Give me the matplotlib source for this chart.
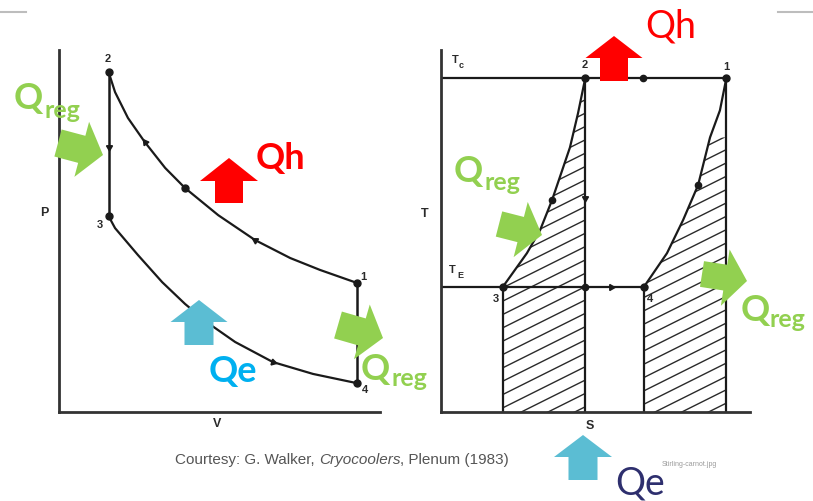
import matplotlib.pyplot as plt
import numpy as np
from matplotlib.patches import FancyArrow, Polygon

# ---- P-V diagram (arbitrary units) ----
v_states = [6.0, 1.0, 1.0, 6.0]          # states 1, 2, 3, 4
p_states = [3.8, 10.0, 5.76, 0.85]
v_hot = [1.0, 1.13, 1.39, 1.73, 2.14, 2.54, 3.21, 3.95, 4.66, 5.26, 6.0]
p_hot = [10.0, 9.41, 8.65, 7.94, 7.18, 6.59, 5.79, 5.06, 4.53, 4.18, 3.8]
v_cold = [1.0, 1.13, 1.59, 2.08, 2.54, 3.0, 3.55, 4.31, 5.12, 6.0]
p_cold = [5.76, 5.41, 4.62, 3.82, 3.18, 2.62, 2.06, 1.47, 1.12, 0.85]

# ---- T-S diagram (arbitrary units) ----
t_c = 10.0
t_e = 3.75
s_states = [13.85, 7.0, 3.0, 9.85]       # states 1, 2, 3, 4
t_states = [t_c, t_c, t_e, t_e]
s_23 = [3.0, 4.17, 4.81, 5.39, 6.26, 6.65, 7.0]
t_23 = [3.75, 4.76, 5.45, 6.35, 7.93, 8.95, 10.0]
s_41 = [9.85, 10.97, 11.75, 12.48, 13.06, 13.54, 13.85]
t_41 = [3.75, 4.76, 5.75, 6.80, 8.23, 9.04, 10.0]

W, H = 813, 501
INK = '#1a1a1a'
GREEN = '#92D050'
RED = '#FF0000'
BLUE_ARROW = '#5BBDD3'
BLUE_TEXT = '#00B0F0'
NAVY = '#2E2F6E'


def rect(x0, y0, x1, y1):
    # pixel box (top-left origin) -> figure fraction
    return [x0 / W, 1 - y1 / H, (x1 - x0) / W, (y1 - y0) / H]


def frame(ax):
    for side in ['top', 'right']:
        ax.spines[side].set_visible(False)
    for side in ['left', 'bottom']:
        ax.spines[side].set_linewidth(2)
        ax.spines[side].set_color('#333333')
    ax.set_xticks([])
    ax.set_yticks([])
    ax.patch.set_alpha(0)


fig = plt.figure(figsize=(W / 100, H / 100), dpi=100)

# P-V
ax_pv = fig.add_axes(rect(59, 50, 380, 412))
frame(ax_pv)
ax_pv.set_xlim(0, 6.47)
ax_pv.set_ylim(0, 10.65)
ax_pv.plot(v_hot, p_hot, color=INK, lw=1.6)
ax_pv.plot(v_cold, p_cold, color=INK, lw=1.6)
ax_pv.plot([v_states[1], v_states[2]], [p_states[1], p_states[2]], color=INK, lw=1.8)
ax_pv.plot([v_states[0], v_states[3]], [p_states[0], p_states[3]], color=INK, lw=1.8)
ax_pv.plot(v_states, p_states, 'o', color=INK, ms=5)
ax_pv.plot(v_hot[5], p_hot[5], 'o', color=INK, ms=5)
# flow direction marks
ax_pv.plot(v_hot[3], p_hot[3], marker=(3, 0, 36), color=INK, ms=5)
ax_pv.plot(v_hot[7], p_hot[7], marker=(3, 0, 59), color=INK, ms=5)
ax_pv.plot(1.0, 7.8, marker=(3, 0, 180), color=INK, ms=5)
ax_pv.plot(v_cold[7], p_cold[7], marker=(3, 0, -105), color=INK, ms=5)

# T-S
ax_ts = fig.add_axes(rect(441, 50, 750, 412))
frame(ax_ts)
ax_ts.set_xlim(0, 15)
ax_ts.set_ylim(0, 10.85)

left_zone = Polygon(list(zip(s_23, t_23)) + [(s_states[1], 0), (s_states[2], 0)],
                    closed=True, fill=False, lw=0)
right_pts = [(s, t) for s, t in zip(s_41, t_41) if t <= 8.3]
right_zone = Polygon(right_pts + [(s_states[0], right_pts[-1][1]), (s_states[0], 0), (s_states[3], 0)],
                     closed=True, fill=False, lw=0)
ax_ts.add_patch(left_zone)
ax_ts.add_patch(right_zone)
s_line = np.array([0, 15])
for t0 in np.arange(-6, 11, 0.4):
    for zone in (left_zone, right_zone):
        ax_ts.plot(s_line, t0 + 0.308 * s_line, color='#2a2a2a', lw=1.0, clip_path=zone)

ax_ts.plot([0, s_states[0]], [t_c, t_c], color=INK, lw=1.6)
ax_ts.plot([0, 10.0], [t_e, t_e], color=INK, lw=1.6)
for s, t in zip(s_states, t_states):
    ax_ts.plot([s, s], [0, t], color=INK, lw=1.6)
ax_ts.plot(s_23, t_23, color=INK, lw=1.6)
ax_ts.plot(s_41, t_41, color=INK, lw=1.6)
ax_ts.plot(s_states, t_states, 'o', color=INK, ms=5)
ax_ts.plot([9.8, s_states[1], s_23[3], s_41[3]], [t_c, t_e, t_23[3], t_41[3]], 'o', color=INK, ms=4.5)
ax_ts.plot(8.25, t_e, marker=(3, 0, -90), color=INK, ms=5)
ax_ts.plot(s_states[1], 6.4, marker=(3, 0, 180), color=INK, ms=5)

# overlay in pixel units for labels and heat-flow arrows
top = fig.add_axes([0, 0, 1, 1])
top.set_xlim(0, W)
top.set_ylim(H, 0)
top.axis('off')

top.plot([0, 26], [12, 12], color='#bdbdbd', lw=1.5)
top.plot([778, 813], [12, 12], color='#bdbdbd', lw=1.5)

lab = dict(family='Liberation Sans', fontweight='bold', color='#2a2a2a', ha='center', va='center')
for txt, x, y, fs in [('P', 44, 213, 9), ('V', 217, 424, 9), ('T', 425, 214, 9), ('S', 590, 426, 9),
                      ('2', 108, 59, 8), ('3', 100, 225, 8), ('1', 363, 277, 8), ('4', 365, 390, 8),
                      ('2', 585, 65, 8), ('1', 726, 67, 8), ('3', 496, 299, 8), ('4', 650, 299, 8),
                      ('T', 455, 60, 8), ('T', 452, 270, 8)]:
    top.text(x, y, txt, fontsize=fs, **lab)
top.text(461, 65, 'c', fontsize=6.5, **lab)
top.text(460, 276, 'E', fontsize=6.5, **lab)


def block_arrow(x0, y0, x1, y1, body, head, head_len, color):
    top.add_patch(FancyArrow(x0, y0, x1 - x0, y1 - y0, width=body, head_width=head,
                             head_length=head_len, length_includes_head=True,
                             color=color, lw=0, zorder=5))


block_arrow(229, 203, 229, 158, 28, 58, 23, RED)
block_arrow(199, 345, 199, 300, 29, 57, 22, BLUE_ARROW)
block_arrow(614, 81, 614, 36, 28, 57, 22, RED)
block_arrow(583, 480, 583, 435, 29, 58, 22, BLUE_ARROW)
block_arrow(58, 143, 103, 155, 28, 57, 22, GREEN)
block_arrow(338, 325, 383, 338, 28, 57, 22, GREEN)
block_arrow(499, 224, 542, 235, 26, 57, 22, GREEN)
block_arrow(702, 274, 747, 281, 26, 57, 22, GREEN)

qfont = 'Lato'
for x, y, xs, ys in [(14, 109, 44, 118), (361, 380, 391, 386), (454, 182, 484, 190), (741, 321, 769, 327)]:
    top.text(x, y, 'Q', family=qfont, fontweight='bold', fontsize=26, color=GREEN, va='baseline', zorder=6)
    top.text(xs, ys, 'reg', family=qfont, fontweight='bold', fontsize=18, color=GREEN, va='baseline', zorder=6)
top.text(256, 169, 'Qh', family=qfont, fontweight='bold', fontsize=26, color=RED, va='baseline', zorder=6)
top.text(209, 382, 'Qe', family=qfont, fontweight='bold', fontsize=26, color=BLUE_TEXT, va='baseline', zorder=6)
top.text(645, 37, 'Qh', family=qfont, fontweight='normal', fontsize=27, color=RED, va='baseline', zorder=6)
top.text(615, 494, 'Qe', family=qfont, fontweight='normal', fontsize=27, color=NAVY, va='baseline', zorder=6)

# citation line with italic book title
cap = dict(family='Liberation Sans', fontsize=11, color='#555555', va='bottom')
t1 = top.text(175, 467, 'Courtesy: G. Walker, ', **cap)
t2 = top.annotate('Cryocoolers', xy=(1, 0), xycoords=t1, style='italic', **cap)
top.annotate(', Plenum (1983)', xy=(1, 0), xycoords=t2, **cap)
top.text(662, 465, 'Stirling-carnot.jpg', family='Liberation Sans', fontsize=5, color='#9a9a9a', va='center')

fig.savefig('out.png', dpi=100)
